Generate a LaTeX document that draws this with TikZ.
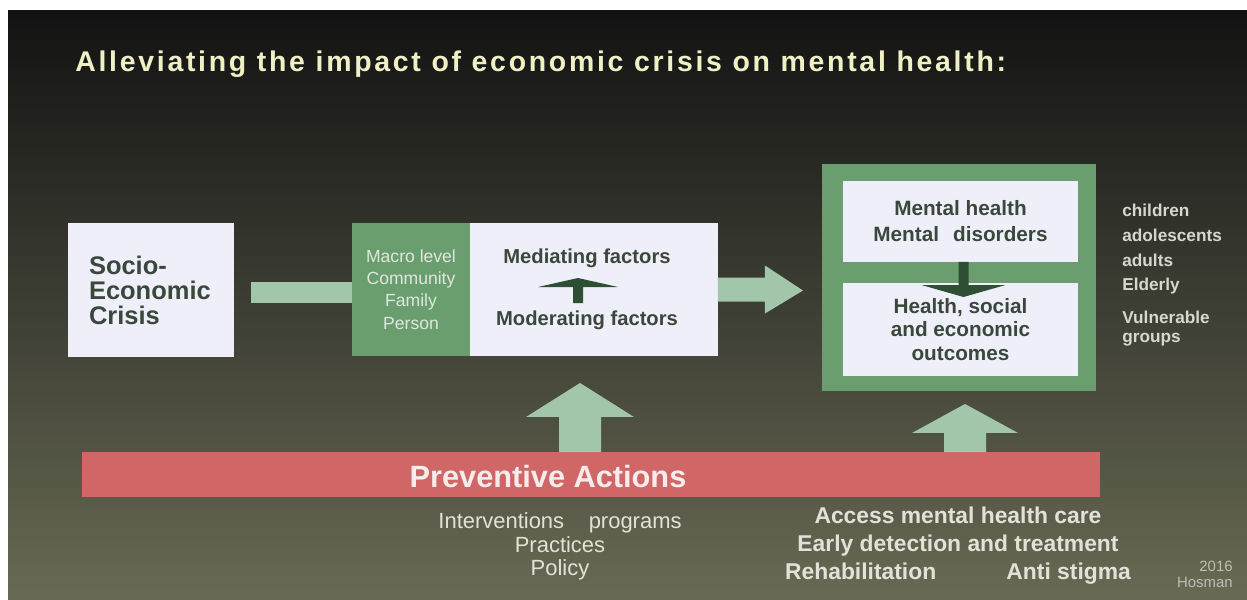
\documentclass[tikz,border=0pt]{standalone}
\usepackage{fontspec}
\setmainfont{Liberation Sans}
\usetikzlibrary{calc}

\definecolor{slidetop}{RGB}{18,18,18}
\definecolor{slidemid}{RGB}{60,61,50}
\definecolor{slidebot}{RGB}{104,106,84}
\definecolor{titletext}{RGB}{240,240,198}
\definecolor{boxfill}{RGB}{239,239,249}
\definecolor{boxtext}{RGB}{58,72,60}
\definecolor{levelgreen}{RGB}{106,158,110}
\definecolor{leveltext}{RGB}{222,232,222}
\definecolor{palearrow}{RGB}{162,198,170}
\definecolor{darkarrow}{RGB}{46,79,52}
\definecolor{actionred}{RGB}{208,102,102}
\definecolor{actiontext}{RGB}{246,236,236}
\definecolor{lighttext}{RGB}{226,226,216}
\definecolor{listtext}{RGB}{215,215,205}
\definecolor{signtext}{RGB}{190,190,180}

\newcommand{\fs}[2]{\fontsize{#1}{#2}\selectfont}

\tikzset{
  lightbox/.style={fill=boxfill, inner sep=0pt, outer sep=0pt, text=boxtext},
  greenbox/.style={fill=levelgreen, inner sep=0pt, outer sep=0pt},
  boxlabel/.style={inner sep=0pt, text=boxtext, align=center},
}

\begin{document}
\begin{tikzpicture}[x=0.02cm, y=-0.02cm]
  \useasboundingbox (0,0) rectangle (1247,599);
  \fill[white] (0,0) rectangle (1247,599);
  \shade[top color=slidetop, middle color=slidemid, bottom color=slidebot] (8,10) rectangle (1247,599);

  \node[anchor=west, inner sep=0pt, text=titletext, font=\fs{16.2}{18}\bfseries\addfontfeatures{LetterSpace=9.5}]
    (title) at (75,64) {Alleviating the impact of economic crisis on mental health:};

  % boxes of the chain
  \node[lightbox, minimum width=3.32cm, minimum height=2.68cm, inner xsep=0.42cm, text width=2.48cm,
        align=left, font=\fs{14.5}{14.2}\bfseries] (crisis) at (151,290) {Socio-\\Economic\\Crisis};
  \node[greenbox, minimum width=2.36cm, minimum height=2.66cm, align=center, text=leveltext,
        font=\fs{10}{12.7}] (levels) at (411,289.5) {Macro level\\Community\\Family\\Person};
  \node[lightbox, minimum width=4.96cm, minimum height=2.66cm] (factors) at (594,289.5) {};
  \node[boxlabel, font=\fs{11.5}{13}\bfseries] (medi) at (587,258) {Mediating factors};
  \node[boxlabel, font=\fs{11.5}{13}\bfseries] (moder) at (587,320) {Moderating factors};

  \node[greenbox, minimum width=5.48cm, minimum height=4.54cm] (outcome) at (959,277.5) {};
  \node[lightbox, minimum width=4.7cm, minimum height=1.62cm, align=center,
        font=\fs{11.8}{14.8}\bfseries] (mh) at (960.5,221.5) {Mental health\\Mental\hspace{8pt}disorders};
  \node[lightbox, minimum width=4.7cm, minimum height=1.86cm, align=center,
        font=\fs{11.8}{13.4}\bfseries] (hso) at (960.5,329.5) {Health, social\\and economic\\outcomes};

  % target groups
  \node[anchor=north west, inner sep=0pt, align=left, text=listtext, font=\fs{9.8}{14}\bfseries]
    (ages) at (1122,204) {children\\adolescents\\adults\\Elderly};
  \node[anchor=north west, inner sep=0pt, align=left, text=listtext, font=\fs{9.8}{10.8}\bfseries]
    (vuln) at (1122,310.5) {Vulnerable\\groups};

  % arrows along the chain
  \fill[palearrow] ($(crisis.east)+(17,-8)$) rectangle ($(levels.west)+(0,13)$);
  \coordinate (tipR) at ($(factors.east)+(85,1)$);
  \fill[palearrow] ($(factors.east)+(0,-12)$) -- ($(tipR)+(-38,-13)$) -- ($(tipR)+(-38,-25)$) -- (tipR)
    -- ($(tipR)+(-38,23)$) -- ($(tipR)+(-38,11)$) -- ($(factors.east)+(0,12)$) -- cycle;

  \coordinate (tipM) at ($(medi)!0.5!(moder)+(-9,-11)$);
  \fill[darkarrow] ($(tipM)+(-5,25)$) -- ($(tipM)+(-5,9)$) -- ($(tipM)+(-40,9)$) -- (tipM)
    -- ($(tipM)+(40,9)$) -- ($(tipM)+(5,9)$) -- ($(tipM)+(5,25)$) -- cycle;

  \coordinate (tipD) at ($(hso.north)+(3,14)$);
  \fill[darkarrow] ($(mh.south)+(-2,0)$) -- ($(tipD)+(-5,-12)$) -- ($(tipD)+(-42,-12)$) -- (tipD)
    -- ($(tipD)+(42,-12)$) -- ($(tipD)+(5,-12)$) -- ($(mh.south)+(8,0)$) -- cycle;

  % preventive actions bar
  \node[fill=actionred, minimum width=20.36cm, minimum height=0.9cm, inner sep=0pt, outer sep=0pt]
    (prevent) at (591,474.5) {};
  \node[inner sep=0pt, text=actiontext, font=\fs{17.5}{18}\bfseries] (prevlabel) at (548,476) {Preventive Actions};

  \coordinate (baseL) at ($(prevent.north)+(-11,0)$);
  \coordinate (tipL) at ($(factors.south)+(-14,27)$);
  \fill[palearrow] ($(baseL)+(-21,0)$) -- ($(tipL)+(-21,34)$) -- ($(tipL)+(-54,34)$) -- (tipL)
    -- ($(tipL)+(54,34)$) -- ($(tipL)+(21,34)$) -- ($(baseL)+(21,0)$) -- cycle;
  \coordinate (baseU) at ($(prevent.north)+(374,0)$);
  \coordinate (tipU) at ($(outcome.south)+(6,13)$);
  \fill[palearrow] ($(baseU)+(-21,0)$) -- ($(tipU)+(-21,29)$) -- ($(tipU)+(-53,29)$) -- (tipU)
    -- ($(tipU)+(53,29)$) -- ($(tipU)+(21,29)$) -- ($(baseU)+(21,0)$) -- cycle;

  % what the actions are
  \node[align=center, inner sep=0pt, text=lighttext, font=\fs{12.5}{13.4}] (interv) at (560,546.5)
    {Interventions\hspace{14pt}programs\\Practices\\Policy};
  \node[align=center, inner sep=0pt, text=lighttext, font=\fs{13}{15.9}\bfseries] (care) at (958,546)
    {Access mental health care\\Early detection and treatment\\Rehabilitation\hspace{40pt}Anti stigma};
  \node[anchor=east, align=right, inner sep=0pt, text=signtext, font=\fs{8.5}{9}] (sign) at (1233,574)
    {2016\\Hosman};
\end{tikzpicture}
\end{document}
